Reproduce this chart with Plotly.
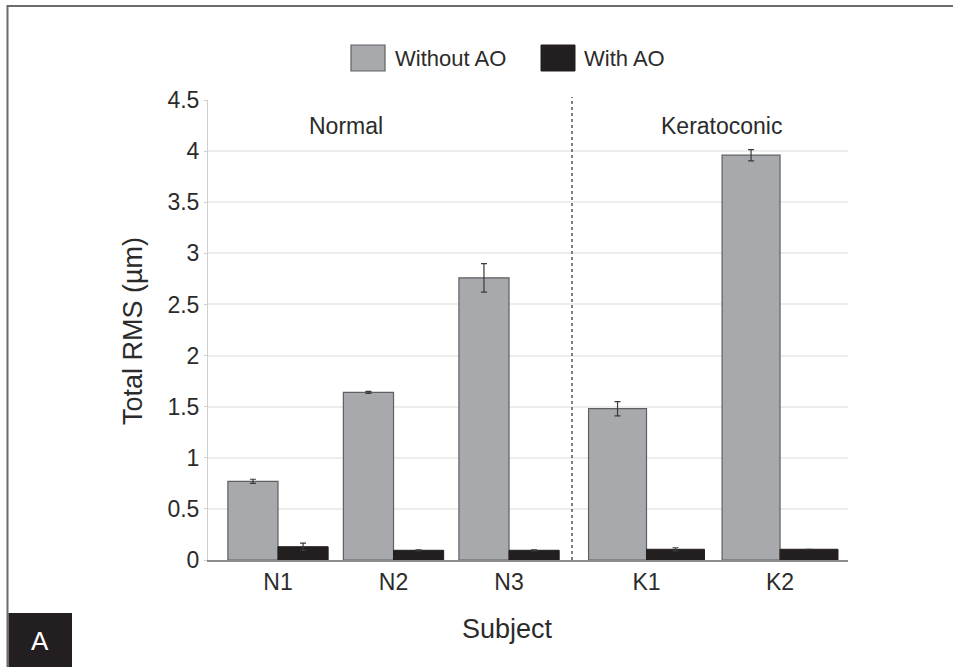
import plotly.graph_objects as go

# ---- data ----
normal_subjects = ["N1", "N2", "N3"]
kerato_subjects = ["K1", "K2"]
normal_without = [0.77, 1.64, 2.76]
normal_without_err = [0.02, 0.01, 0.14]
normal_with = [0.13, 0.095, 0.095]
normal_with_err = [0.035, 0.005, 0.005]
kerato_without = [1.48, 3.96]
kerato_without_err = [0.07, 0.055]
kerato_with = [0.105, 0.105]
kerato_with_err = [0.015, 0.0]
y_ticks = [0, 0.5, 1, 1.5, 2, 2.5, 3, 3.5, 4, 4.5]
y_tick_labels = ["0", "0.5", "1", "1.5", "2", "2.5", "3", "3.5", "4", "4.5"]
group_labels = ["Normal", "Keratoconic"]
series_names = ["Without AO", "With AO"]

GRAY = "#a7a9ac"
BLACK = "#231f20"
EDGE = "#5f6062"
TXT = "#2b2b2b"
FONT = "Liberation Sans, Arial, sans-serif"

W, H = 953, 667
L, R, T, B = 208, 848, 100, 560  # plot area pixels


def px(x):
    return (x - L) / (R - L)


def py(y):
    return (B - y) / (B - T)


fig = go.Figure()

def err(vals):
    return dict(type="data", array=vals, visible=True, color="#3a3a3a", thickness=1.2, width=3)

fig.add_trace(go.Bar(x=normal_subjects, y=normal_without, error_y=err(normal_without_err),
                     marker=dict(color=GRAY, line=dict(color=EDGE, width=1.2)),
                     name=series_names[0], xaxis="x", yaxis="y", showlegend=False))
fig.add_trace(go.Bar(x=normal_subjects, y=normal_with, error_y=err(normal_with_err),
                     marker=dict(color=BLACK, line=dict(color=BLACK, width=1)),
                     name=series_names[1], xaxis="x", yaxis="y", showlegend=False))
fig.add_trace(go.Bar(x=kerato_subjects, y=kerato_without, error_y=err(kerato_without_err),
                     marker=dict(color=GRAY, line=dict(color=EDGE, width=1.2)),
                     name=series_names[0], xaxis="x2", yaxis="y2", showlegend=False))
fig.add_trace(go.Bar(x=kerato_subjects, y=kerato_with, error_y=err(kerato_with_err),
                     marker=dict(color=BLACK, line=dict(color=BLACK, width=1)),
                     name=series_names[1], xaxis="x2", yaxis="y2", showlegend=False))

split = px(572)
tickfont = dict(family=FONT, size=23, color=TXT)
xcommon = dict(type="category", showline=True, linecolor="#8c8c8c", linewidth=2,
               ticks="", showgrid=False, zeroline=False, tickfont=tickfont, fixedrange=True)
fig.update_layout(
    width=W, height=H,
    margin=dict(l=L, r=W - R, t=T, b=H - B),
    paper_bgcolor="white", plot_bgcolor="white",
    barmode="group", bargap=0.132, bargroupgap=0,
    xaxis=dict(domain=[0, split], range=[-0.606, 2.545], anchor="y", **xcommon),
    xaxis2=dict(domain=[split, 1], range=[-0.558, 1.509], anchor="y2", **xcommon),
    yaxis=dict(range=[0, 4.5], tickvals=y_ticks, ticktext=y_tick_labels,
               showgrid=True, gridcolor="#ededed", gridwidth=1.5,
               showline=True, linecolor="#cfcfcf", linewidth=1,
               ticks="outside", ticklen=3, tickcolor="#cfcfcf",
               zeroline=False, tickfont=tickfont, anchor="x"),
    yaxis2=dict(range=[0, 4.5], tickvals=y_ticks, showgrid=True, gridcolor="#ededed",
                gridwidth=1.5, showline=False, showticklabels=False, ticks="",
                zeroline=False, anchor="x2", matches="y"),
    showlegend=False,
)

shapes = []
annotations = []


def note(text, x, y, size, color=TXT, **kw):
    d = dict(text=text, x=px(x), y=py(y), xref="paper", yref="paper", showarrow=False,
             xanchor="center", yanchor="middle", font=dict(family=FONT, size=size, color=color))
    d.update(kw)
    annotations.append(d)


# divider
shapes.append(dict(type="line", xref="paper", yref="paper", x0=split, x1=split,
                   y0=0, y1=py(97), line=dict(color="#555555", width=1.5, dash="dot")))
# group labels
note(group_labels[0], 346, 126, 23)
note(group_labels[1], 721, 126, 23)
# axis titles
note("Total RMS (µm)", 133, 331, 27, textangle=-90)
note("Subject", 507, 629, 27)
# legend
shapes.append(dict(type="rect", xref="paper", yref="paper", x0=px(351), x1=px(385),
                   y0=py(71), y1=py(45), fillcolor=GRAY, line=dict(color=EDGE, width=1.2)))
note(series_names[0], 393, 58, 22, xanchor="left")
shapes.append(dict(type="rect", xref="paper", yref="paper", x0=px(541), x1=px(575),
                   y0=py(71), y1=py(45), fillcolor=BLACK, line=dict(color=BLACK, width=1)))
note(series_names[1], 582, 58, 22, xanchor="left")
# frame
shapes.append(dict(type="line", xref="paper", yref="paper", x0=px(7), x1=px(953),
                   y0=py(6), y1=py(6), line=dict(color="#6b6b6b", width=2)))
shapes.append(dict(type="line", xref="paper", yref="paper", x0=px(7.5), x1=px(7.5),
                   y0=py(667), y1=py(5), line=dict(color="#6b6b6b", width=2)))
# panel letter
shapes.append(dict(type="rect", xref="paper", yref="paper", x0=px(8.5), x1=px(72),
                   y0=py(667), y1=py(613), fillcolor=BLACK, line=dict(width=0)))
note("A", 40, 641, 26, color="white")

fig.update_layout(shapes=shapes, annotations=annotations)
fig.write_html("out.html", config={"displayModeBar": False},
               post_script="document.body.style.margin='0';document.body.style.overflow='hidden';")
